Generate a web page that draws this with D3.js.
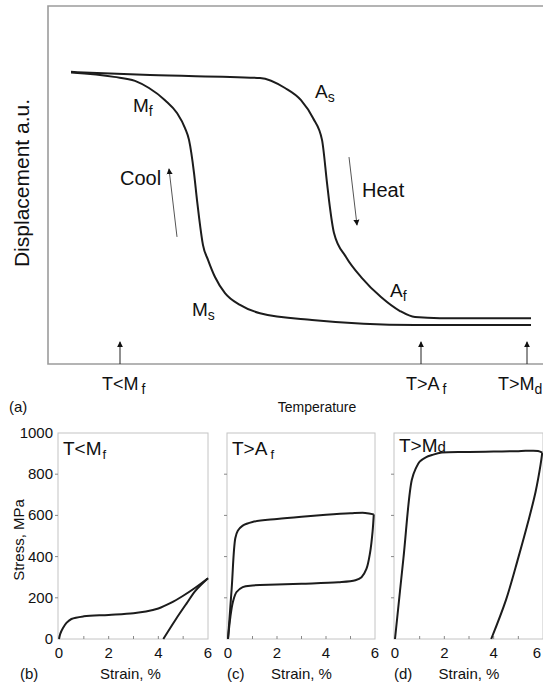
<!DOCTYPE html>
<html>
<head>
<meta charset="utf-8">
<script src="https://cdn.jsdelivr.net/npm/d3@7"></script>
<style>
  html, body { margin: 0; padding: 0; background: #fff; }
  svg { display: block; font-family: "Liberation Sans", Arial, Helvetica, sans-serif; }
  text { fill: #111; }
</style>
</head>
<body>
<svg id="chart" width="543" height="683"></svg>
<script>
// ---- (a) displacement vs temperature, arbitrary units ----
const heatingCurve = [
  [4.6, 81.6], [20.4, 80.7], [42.4, 79.9], [47.4, 77.1], [50.6, 73.7], [53.0, 68.7],
  [54.8, 62.6], [55.8, 50.6], [56.2, 45.8], [57.2, 36.6], [59.6, 29.9], [62.8, 24.0],
  [66.6, 18.7], [70.4, 14.8], [73.4, 13.1], [78.4, 12.8], [96.6, 12.8]
];
const coolingCurve = [
  [4.6, 81.4], [13.2, 80.2], [17.4, 79.1], [20.2, 77.1], [23.4, 73.7], [25.8, 70.1],
  [27.4, 65.9], [28.2, 62.6], [29.2, 53.4], [29.8, 45.8], [30.2, 41.1], [31.0, 33.2],
  [32.0, 29.1], [33.4, 24.3], [35.4, 19.8], [38.4, 16.5], [42.4, 14.2], [52.8, 12.3],
  [73.4, 10.9], [96.6, 10.9]
];
// transformation temperature labels: [T, D, main, subscript]
const transitionLabels = [
  [17.0, 70.4, "M", "f"],
  [53.4, 74.3, "A", "s"],
  [28.8, 13.4, "M", "s"],
  [68.4, 18.7, "A", "f"]
];
// direction arrows: [T0, D0, T1, D1, text, textT, textD]
const directionArrows = [
  [25.8, 35.5, 24.2, 54.5, "Cool", 14.4, 50.0],
  [60.2, 57.8, 61.8, 38.8, "Heat", 62.8, 46.6]
];
// test temperatures marked on the axis
const testTemps = [14.4, 74.6, 95.8];
const testMain = ["T<M", "T>A", "T>M"];
const testSub = ["f", "f", "d"];

// ---- (b)-(d) stress (MPa) vs strain (%) ----
const strainTicks = [0, 2, 4, 6];
const stressTicks = [0, 200, 400, 600, 800, 1000];
const panelNames = ["(b)", "(c)", "(d)"];
const panelMain = ["T<M", "T>A", "T>M"];
const panelSub = ["f", "f", "d"];

const martensiteLoad = [
  [0, 0], [0.05, 25], [0.16, 53], [0.3, 78], [0.5, 97], [1, 110], [2, 117], [3, 125],
  [3.5, 133], [4, 148], [4.5, 175], [5, 210], [5.5, 250], [6, 295]
];
const martensiteUnload = [[6, 295], [5.5, 235], [5.14, 173], [4.7, 95], [4.2, 0]];

const superLoad = [
  [0, 0], [0.15, 245], [0.3, 490], [0.4, 525], [0.6, 550], [1, 568], [2, 583], [3, 594],
  [4, 603], [5, 610], [5.6, 612], [5.95, 605]
];
const superUnload = [
  [5.95, 605], [5.9, 520], [5.8, 420], [5.65, 340], [5.45, 300], [5.2, 285], [4.5, 275],
  [3, 268], [2, 264], [1, 260], [0.6, 252], [0.35, 228], [0.2, 180], [0.1, 110], [0, 0]
];

const plasticLoad = [
  [0, 0], [0.34, 390], [0.68, 772], [0.85, 830], [1.0, 861], [1.25, 882], [1.5, 893],
  [1.9, 905], [3, 908], [4, 910], [5, 912], [5.8, 913], [5.97, 905]
];
const plasticUnload = [
  [5.97, 905], [5.9, 845], [5.7, 715], [5.4, 570], [5.0, 395], [4.5, 190], [3.9, 0]
];

const panelCurves = [
  [martensiteLoad, martensiteUnload],
  [superLoad, superUnload],
  [plasticLoad, plasticUnload]
];

const svg = d3.select("#chart");
const ink = "#1c1c1c";
const frame = "#9c9c9c";

// ===== panel (a) =====
const xT = d3.scaleLinear().domain([0, 100]).range([48, 548]);
const yD = d3.scaleLinear().domain([0, 100]).range([364, 6]);

const defs = svg.append("defs");
defs.append("marker")
  .attr("id", "head").attr("viewBox", "0 0 10 10")
  .attr("refX", 9).attr("refY", 5)
  .attr("markerWidth", 6).attr("markerHeight", 7)
  .attr("markerUnits", "userSpaceOnUse")
  .attr("orient", "auto")
  .append("path").attr("d", "M0,0 L10,5 L0,10 Z").attr("fill", "#111");

const panelA = svg.append("g");
panelA.append("path")
  .attr("d", `M${xT(100)},${yD(100)} H${xT(0)} V${yD(0)} H${xT(100)}`)
  .attr("fill", "none").attr("stroke", frame).attr("stroke-width", 1.6);

const lineT = d3.line().x(d => xT(d[0])).y(d => yD(d[1])).curve(d3.curveMonotoneX);
[heatingCurve, coolingCurve].forEach(c => {
  panelA.append("path").attr("d", lineT(c))
    .attr("fill", "none").attr("stroke", ink).attr("stroke-width", 2);
});

transitionLabels.forEach(([t, d, m, s]) => {
  const tx = panelA.append("text").attr("x", xT(t)).attr("y", yD(d)).attr("font-size", 19);
  tx.append("tspan").text(m);
  tx.append("tspan").attr("font-size", 14).attr("dy", 4).text(s);
});

directionArrows.forEach(([t0, d0, t1, d1, label, lt, ld]) => {
  panelA.append("line")
    .attr("x1", xT(t0)).attr("y1", yD(d0)).attr("x2", xT(t1)).attr("y2", yD(d1))
    .attr("stroke", "#555").attr("stroke-width", 1)
    .attr("marker-end", "url(#head)");
  panelA.append("text").attr("x", xT(lt)).attr("y", yD(ld)).attr("font-size", 20).text(label);
});

// label offsets from each axis arrow (the last one sits against the right edge)
const testLabelShift = [-18, -15, -29];
testTemps.forEach((t, i) => {
  panelA.append("line")
    .attr("x1", xT(t)).attr("y1", yD(0)).attr("x2", xT(t)).attr("y2", yD(6.2))
    .attr("stroke", "#222").attr("stroke-width", 1)
    .attr("marker-end", "url(#head)");
  const tx = panelA.append("text").attr("x", xT(t) + testLabelShift[i]).attr("y", 390)
    .attr("font-size", 18);
  tx.append("tspan").text(testMain[i]);
  tx.append("tspan").attr("font-size", 14).attr("dx", i === 2 ? 0 : 3).attr("dy", 4).text(testSub[i]);
});

svg.append("text").attr("transform", "translate(29,183) rotate(-90)")
  .attr("text-anchor", "middle").attr("font-size", 21).text("Displacement a.u.");
svg.append("text").attr("x", 317).attr("y", 412).attr("text-anchor", "middle")
  .attr("font-size", 14).text("Temperature");
svg.append("text").attr("x", 9).attr("y", 412).attr("font-size", 15).text("(a)");

// ===== panels (b)-(d) =====
const panelRanges = [[59, 208], [228, 375], [395, 543]];
const yS = d3.scaleLinear().domain([0, 1000]).range([639, 433]);

panelRanges.forEach((r, i) => {
  const xS = d3.scaleLinear().domain([0, 6]).range(r);
  const g = svg.append("g");

  g.append("rect")
    .attr("x", xS(0) - 1).attr("y", yS(1000))
    .attr("width", xS(6) - xS(0) + 1).attr("height", yS(0) - yS(1000))
    .attr("fill", "none").attr("stroke", "#c4c4c4").attr("stroke-width", 1);

  // small ticks on the frame
  g.selectAll(".sx").data(d3.range(1, 6)).join("line")
    .attr("x1", d => xS(d)).attr("x2", d => xS(d))
    .attr("y1", yS(0)).attr("y2", yS(0) - 3)
    .attr("stroke", "#888").attr("stroke-width", 1);
  g.selectAll(".sy").data(stressTicks.slice(1, -1)).join("line")
    .attr("x1", xS(0) - 1).attr("x2", xS(0) - 4)
    .attr("y1", d => yS(d)).attr("y2", d => yS(d))
    .attr("stroke", "#888").attr("stroke-width", 1);

  const lineS = d3.line().x(d => xS(d[0])).y(d => yS(d[1])).curve(d3.curveCatmullRom.alpha(0.5));
  panelCurves[i].forEach(c => {
    g.append("path").attr("d", lineS(c))
      .attr("fill", "none").attr("stroke", ink).attr("stroke-width", 2)
      .attr("stroke-linejoin", "round");
  });

  // the last panel's final tick label is nudged in so it stays on the page
  g.selectAll(".xl").data(strainTicks).join("text")
    .attr("x", d => Math.min(xS(d), 537)).attr("y", 658).attr("text-anchor", "middle")
    .attr("font-size", 15).text(d => d);

  const t = g.append("text").attr("x", xS(0) + 4).attr("y", i === 2 ? 452 : 455).attr("font-size", 19);
  t.append("tspan").text(panelMain[i]);
  if (i === 2) {
    t.append("tspan").attr("font-size", 15).text(panelSub[i]);
  } else {
    t.append("tspan").attr("font-size", 13).attr("dx", i === 1 ? 3 : 1).attr("dy", 4).text(panelSub[i]);
  }

  g.append("text").attr("x", xS(0) - 39 + (i === 0 ? 0 : 38)).attr("y", 679)
    .attr("font-size", 15).text(panelNames[i]);
  g.append("text").attr("x", (xS(0) + xS(6)) / 2 - (i === 0 ? 3 : 0)).attr("y", 679)
    .attr("text-anchor", "middle").attr("font-size", 15).text("Strain, %");
});

svg.selectAll(".yl").data(stressTicks).join("text")
  .attr("x", 53).attr("y", d => yS(d) + 5).attr("text-anchor", "end")
  .attr("font-size", 15).text(d => d);
svg.append("text").attr("transform", "translate(24,540) rotate(-90)")
  .attr("text-anchor", "middle").attr("font-size", 15).text("Stress, MPa");
</script>
</body>
</html>
